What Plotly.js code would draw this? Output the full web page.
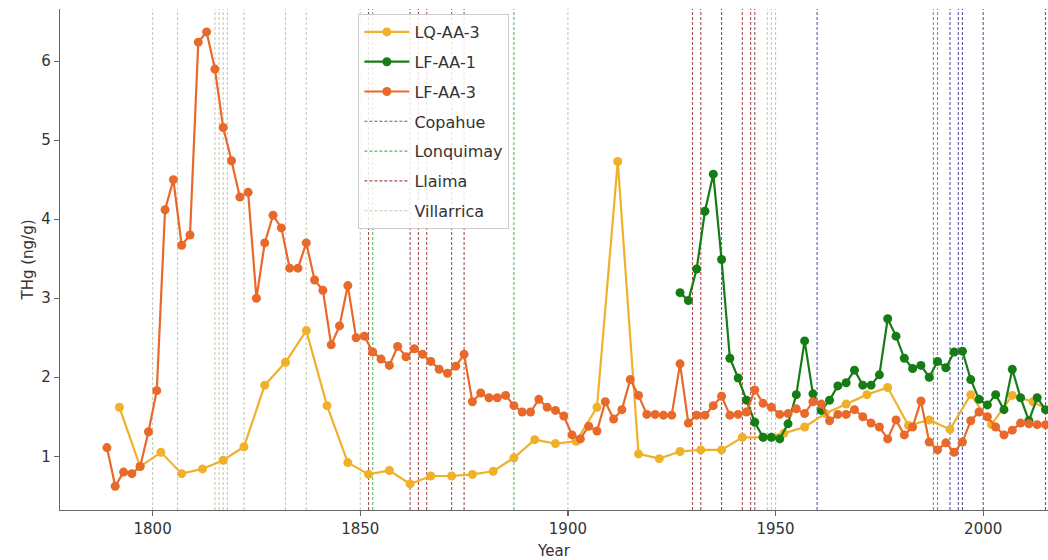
<!DOCTYPE html>
<html>
<head>
<meta charset="utf-8">
<script src="https://cdn.plot.ly/plotly-3.0.1.min.js"></script>
<style>html,body{margin:0;padding:0;background:#fff;}#chart{width:1048px;height:560px;}</style>
</head>
<body>
<div id="chart"></div>
<script>
// ---- data ----
const lfaa3Years = [1789,1791,1793,1795,1797,1799,1801,1803,1805,1807,1809,1811,1813,1815,1817,1819,1821,1823,1825,1827,1829,1831,1833,1835,1837,1839,1841,1843,1845,1847,1849,1851,1853,1855,1857,1859,1861,1863,1865,1867,1869,1871,1873,1875,1877,1879,1881,1883,1885,1887,1889,1891,1893,1895,1897,1899,1901,1903,1905,1907,1909,1911,1913,1915,1917,1919,1921,1923,1925,1927,1929,1931,1933,1935,1937,1939,1941,1943,1945,1947,1949,1951,1953,1955,1957,1959,1961,1963,1965,1967,1969,1971,1973,1975,1977,1979,1981,1983,1985,1987,1989,1991,1993,1995,1997,1999,2001,2003,2005,2007,2009,2011,2013,2015];
const lfaa3Values = [1.11,0.62,0.80,0.78,0.87,1.31,1.83,4.12,4.50,3.67,3.80,6.24,6.37,5.90,5.16,4.74,4.28,4.34,3.00,3.70,4.05,3.89,3.38,3.38,3.70,3.23,3.10,2.41,2.65,3.16,2.50,2.52,2.32,2.23,2.15,2.39,2.26,2.36,2.29,2.20,2.10,2.05,2.14,2.29,1.69,1.80,1.74,1.74,1.77,1.64,1.56,1.56,1.72,1.62,1.58,1.51,1.27,1.22,1.38,1.32,1.69,1.47,1.59,1.97,1.77,1.53,1.53,1.52,1.52,2.17,1.42,1.52,1.52,1.64,1.76,1.52,1.53,1.56,1.84,1.67,1.62,1.53,1.54,1.60,1.54,1.69,1.66,1.45,1.53,1.53,1.59,1.50,1.42,1.37,1.22,1.46,1.27,1.37,1.70,1.18,1.08,1.17,1.05,1.18,1.45,1.56,1.50,1.37,1.27,1.33,1.42,1.41,1.40,1.40];

const lqaa3Years = [1792,1797,1802,1807,1812,1817,1822,1827,1832,1837,1842,1847,1852,1857,1862,1867,1872,1877,1882,1887,1892,1897,1902,1907,1912,1917,1922,1927,1932,1937,1942,1947,1952,1957,1962,1967,1972,1977,1982,1987,1992,1997,2002,2007,2012,2017];
const lqaa3Values = [1.62,0.87,1.05,0.78,0.84,0.95,1.12,1.90,2.19,2.59,1.64,0.92,0.77,0.82,0.65,0.75,0.75,0.77,0.81,0.98,1.21,1.16,1.19,1.62,4.73,1.03,0.97,1.06,1.08,1.08,1.24,1.24,1.29,1.37,1.54,1.66,1.78,1.87,1.39,1.46,1.34,1.78,1.40,1.77,1.69,1.55];

const lfaa1Years = [1927,1929,1931,1933,1935,1937,1939,1941,1943,1945,1947,1949,1951,1953,1955,1957,1959,1961,1963,1965,1967,1969,1971,1973,1975,1977,1979,1981,1983,1985,1987,1989,1991,1993,1995,1997,1999,2001,2003,2005,2007,2009,2011,2013,2015];
const lfaa1Values = [3.07,2.97,3.37,4.10,4.57,3.49,2.24,1.99,1.71,1.43,1.24,1.24,1.22,1.41,1.78,2.46,1.79,1.58,1.71,1.89,1.93,2.09,1.90,1.90,2.03,2.74,2.52,2.24,2.11,2.15,2.00,2.20,2.12,2.32,2.33,1.97,1.72,1.65,1.78,1.59,2.10,1.74,1.45,1.74,1.59];

const copahueYears = [1937,1960,1992,1994,1995,2000,2015];
const lonquimayYears = [1853,1887,1988,1989];
const llaimaYears = [1852,1862,1864,1866,1872,1875,1930,1932,1942,1944,1945];
const villarricaYears = [1800,1806,1815,1816,1817,1818,1822,1832,1837,1850,1900,1948,1949,1950];

const xTicks = [1800,1850,1900,1950,2000];
const yTicks = [1,2,3,4,5,6];

// ---- drawing ----
const xRange = [1777.7, 2015.6];
const yRange = [0.32, 6.66];

function vlines(years, name, color, rank) {
  const xs = [], ys = [];
  years.forEach(y => { xs.push(y, y, null); ys.push(yRange[0], yRange[1], null); });
  return {
    x: xs, y: ys, type: 'scatter', mode: 'lines', name: name,
    line: {color: color, width: 1.1, dash: '3px,2px'},
    legendgroup: name, legendrank: rank, hoverinfo: 'skip'
  };
}

function series(xs, ys, name, color, rank) {
  return {
    x: xs, y: ys, type: 'scatter', mode: 'lines+markers', name: name,
    line: {color: color, width: 2.2},
    marker: {color: color, size: 9},
    legendgroup: name, legendrank: rank
  };
}

const data = [
  vlines(villarricaYears, 'Villarrica', 'rgba(165,165,130,0.6)', 7),
  vlines(llaimaYears, 'Llaima', 'rgba(128,0,0,0.7)', 6),
  vlines(lonquimayYears, 'Lonquimay', 'rgba(0,140,0,0.65)', 5),
  vlines(copahueYears, 'Copahue', 'rgba(0,0,128,0.65)', 4),
  series(lqaa3Years, lqaa3Values, 'LQ-AA-3', '#f0b12a', 1),
  series(lfaa1Years, lfaa1Values, 'LF-AA-1', '#167c16', 2),
  series(lfaa3Years, lfaa3Values, 'LF-AA-3', '#e8692a', 3)
];

const axisFont = {family: 'DejaVu Sans, sans-serif', size: 15, color: '#333'};

const layout = {
  width: 1048, height: 560,
  margin: {l: 60, r: 0, t: 9, b: 50},
  paper_bgcolor: '#fff', plot_bgcolor: '#fff',
  font: {family: 'DejaVu Sans, sans-serif', color: '#333'},
  showlegend: true,
  xaxis: {
    range: xRange, tickvals: xTicks, ticktext: xTicks.map(String),
    showgrid: false, zeroline: false, showline: true, linecolor: '#666', linewidth: 1.3,
    ticks: 'outside', ticklen: 5, tickcolor: '#666', tickwidth: 1.2,
    tickfont: axisFont,
    title: {text: 'Year', font: axisFont, standoff: 10}
  },
  yaxis: {
    range: yRange, tickvals: yTicks, ticktext: yTicks.map(String),
    showgrid: false, zeroline: false, showline: true, linecolor: '#666', linewidth: 1.3,
    ticks: 'outside', ticklen: 5, tickcolor: '#666', tickwidth: 1.2,
    tickfont: axisFont,
    title: {text: 'THg (ng/g)', font: axisFont, standoff: 4}
  },
  legend: {
    x: 0.302, y: 0.99, xanchor: 'left', yanchor: 'top',
    bgcolor: 'rgba(255,255,255,0.85)', bordercolor: '#cccccc', borderwidth: 1,
    font: {family: 'DejaVu Sans, sans-serif', size: 16, color: '#333'},
    traceorder: 'grouped', tracegroupgap: 6, itemwidth: 45
  }
};

Plotly.newPlot('chart', data, layout, {displayModeBar: false, staticPlot: true});
</script>
</body>
</html>
